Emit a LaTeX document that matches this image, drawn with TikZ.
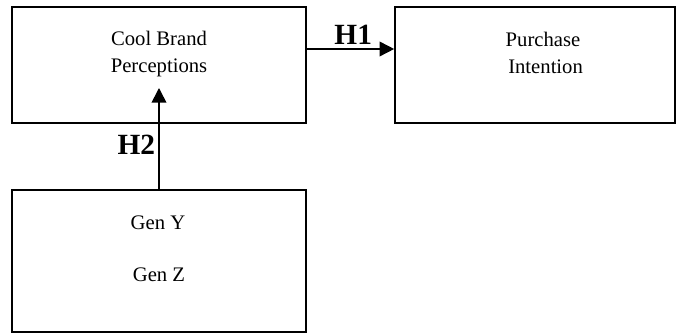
\documentclass[tikz,border=0pt]{standalone}
\usepackage{fontspec}
\setmainfont{Liberation Serif}
\usetikzlibrary{arrows.meta}

\tikzset{
  conbox/.style={draw, line width=1.2pt, inner sep=0pt},
  conlabel/.style={font=\fontsize{15.5}{20}\selectfont, align=center, inner sep=0.75pt},
  hyplabel/.style={font=\fontsize{22}{26}\selectfont\bfseries, inner sep=0.75pt},
  hyparrow/.style={line width=1.2pt, -{Triangle[length=11pt,width=11pt]}}
}

\begin{document}
\begin{tikzpicture}[x=0.75pt,y=0.75pt,yscale=-1,xscale=1]
\useasboundingbox (0,0) rectangle (678,334);

%Shape: Rectangle
\node [conbox, minimum width=220.5pt, minimum height=87pt] (cool) at (159,65) {};
%Shape: Rectangle
\node [conbox, minimum width=210pt, minimum height=87pt] (purchase) at (535,65) {};
%Shape: Rectangle
\node [conbox, minimum width=220.5pt, minimum height=106.5pt] (gen) at (159,261) {};

% Text Node
\node [conlabel] (cooltxt) at (159,54) {Cool Brand\\Perceptions};
% Text Node
\node [conlabel] (purchasetxt) at (543,53) {Purchase\\\ Intention};
% Text Node
\node [conlabel] (genY) at (158,223) {Gen Y};
% Text Node
\node [conlabel] (genZ) at (159,275) {Gen Z};

%Straight Lines
\draw [hyparrow] (cool.east |- 0,49) -- (purchase.west |- 0,49) node [hyplabel, midway, xshift=2pt, yshift=10.5pt] (h1) {H1};
%Straight Lines
\draw [hyparrow] (gen.north) -- (159,88) node [hyplabel, midway, xshift=-17pt, yshift=-4.5pt] (h2) {H2};

\end{tikzpicture}
\end{document}
